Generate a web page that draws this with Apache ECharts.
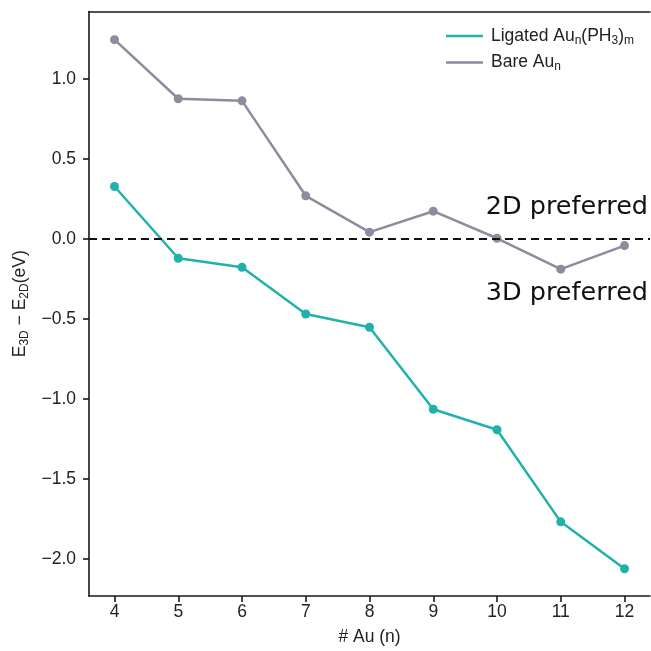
<!DOCTYPE html>
<html><head><meta charset="utf-8">
<script src="https://cdn.jsdelivr.net/npm/echarts@6/dist/echarts.min.js"></script>
<style>html,body{margin:0;padding:0;background:#fff}#c{width:651px;height:651px}</style>
</head><body><div id="c"></div>
<script>
const nAu = [4, 5, 6, 7, 8, 9, 10, 11, 12];
const ligated = [0.327, -0.121, -0.177, -0.469, -0.552, -1.064, -1.192, -1.767, -2.060];
const bare = [1.244, 0.875, 0.862, 0.269, 0.042, 0.173, 0.004, -0.189, -0.042];
const yTicks = [-2.0, -1.5, -1.0, -0.5, 0.0, 0.5, 1.0];
const xTicks = [4, 5, 6, 7, 8, 9, 10, 11, 12];
const annoTop = '2D preferred';
const annoBottom = '3D preferred';

const teal = '#20b2aa';
const gray = '#8b8d9f';
const FF = '"Liberation Sans", Arial, sans-serif';
const fs = 17.5;

const chart = echarts.init(document.getElementById('c'), null, {renderer: 'canvas'});
const sub = {fontSize: 12, fontFamily: FF, color: '#222', padding: [9, 0, 0, 0]};
const nrm = {fontSize: fs, fontFamily: FF, color: '#222'};

chart.setOption({
  animation: false,
  grid: {left: 89, right: 1, top: 11.5, bottom: 55, containLabel: false, outerBoundsMode: 'none'},
  legend: {
    orient: 'vertical', left: 441, top: 22, itemWidth: 37, itemHeight: 2.5, itemGap: 7,
    icon: 'rect',
    data: ['Ligated', 'Bare'],
    formatter: name => name === 'Ligated'
      ? '{n|Ligated Au}{s|n}{n|(PH}{s|3}{n|)}{s|m}'
      : '{n|Bare Au}{s|n}',
    textStyle: {rich: {n: nrm, s: sub}, padding: [0, 0, 0, 3]}
  },
  xAxis: [{
    type: 'value', min: 3.6, max: 12.4, position: 'bottom',
    name: '# Au (n)', nameLocation: 'middle', nameGap: 32,
    nameTextStyle: {fontSize: fs, fontFamily: FF, color: '#222'},
    axisLine: {onZero: false, lineStyle: {color: '#1a1a1a', width: 1.6}},
    axisTick: {show: true, length: 6, lineStyle: {color: '#1a1a1a', width: 1.6}, customValues: xTicks},
    axisLabel: {fontSize: fs, fontFamily: FF, color: '#222', margin: 7, customValues: xTicks},
    splitLine: {show: false}
  }, {
    type: 'value', min: 3.6, max: 12.4, position: 'top',
    axisLine: {show: true, onZero: false, lineStyle: {color: '#1a1a1a', width: 1.6}},
    axisTick: {show: false}, axisLabel: {show: false}, splitLine: {show: false}
  }],
  yAxis: {
    type: 'value', min: -2.23, max: 1.42,
    name: '{n|E}{s|3D}{n| − E}{s|2D}{n|(eV)}', nameLocation: 'middle', nameGap: 55, nameRotate: 90,
    nameTextStyle: {rich: {n: nrm, s: sub}},
    axisLine: {show: true, onZero: false, lineStyle: {color: '#1a1a1a', width: 1.6}},
    axisTick: {show: true, length: 6, lineStyle: {color: '#1a1a1a', width: 1.6}, customValues: yTicks},
    axisLabel: {fontSize: fs, fontFamily: FF, color: '#222', margin: 13, customValues: yTicks,
      formatter: v => v.toFixed(1).replace('-', '\u2212')},
    splitLine: {show: false}
  },
  series: [{
    name: 'Ligated', type: 'line', data: nAu.map((x, i) => [x, ligated[i]]),
    symbol: 'circle', symbolSize: 9, color: teal,
    lineStyle: {width: 2.5, color: teal}, itemStyle: {color: teal},
    markLine: {
      silent: true, symbol: 'none', label: {show: false},
      lineStyle: {color: '#111', type: [8, 5], width: 2},
      data: [{yAxis: 0}]
    }
  }, {
    name: 'Bare', type: 'line', data: nAu.map((x, i) => [x, bare[i]]),
    symbol: 'circle', symbolSize: 9, color: gray,
    lineStyle: {width: 2.5, color: gray}, itemStyle: {color: gray}
  }],
  graphic: [
    {type: 'text', right: 3, top: 194, style: {text: annoTop, font: '25.5px "DejaVu Sans"', fill: '#111'}},
    {type: 'text', right: 3, top: 280, style: {text: annoBottom, font: '25.5px "DejaVu Sans"', fill: '#111'}}
  ]
});
</script></body></html>
